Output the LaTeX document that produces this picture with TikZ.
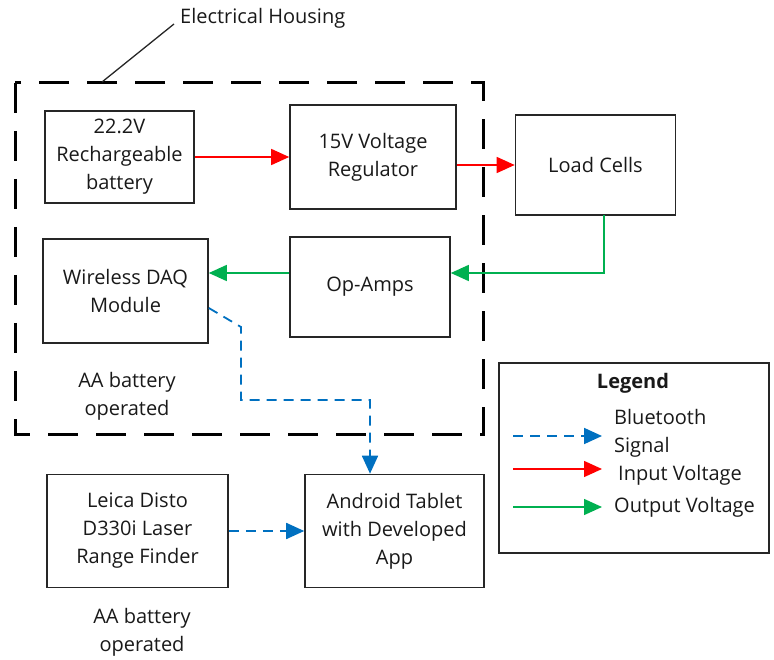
\documentclass[tikz,border=0pt]{standalone}
\usepackage{fontspec}
\setmainfont{Open Sans}
\usetikzlibrary{arrows.meta}
\definecolor{bt}{RGB}{0,112,192}
\definecolor{gv}{RGB}{0,176,80}
\definecolor{rv}{RGB}{255,0,0}
\begin{document}
\begin{tikzpicture}[x=1pt,y=-1pt,
  font=\fontsize{20}{28}\selectfont,
  blk/.style={draw=black!85,line width=1.6pt,align=center,inner sep=0pt,text=black!90},
  lbl/.style={align=center,inner sep=0pt,text=black!90},
  tip/.style={-{Triangle[length=18pt,width=16pt]}},
  inv/.style={tip,draw=rv,line width=1.5pt},
  outv/.style={tip,draw=gv,line width=1.5pt},
  blue/.style={draw=bt,line width=1.8pt,-{Triangle[length=18pt,width=16pt]},dash pattern=on 10pt off 7pt}]
\useasboundingbox (0,0) rectangle (774,660);
% housing
\draw[line width=3pt,dash pattern=on 30pt off 18pt] (15,83) rectangle (483,434);
\coordinate (hc) at (102,82);
\node[lbl,anchor=west] (hl) at (180,18) {Electrical Housing};
\draw[line width=1.3pt,black!85] (hc) -- (174,24);
% boxes
\node[blk,minimum width=149pt,minimum height=92pt] (bat) at (119.5,157) {22.2V\\Rechargeable\\battery};
\node[blk,minimum width=166pt,minimum height=104pt] (reg) at (373,157) {15V Voltage\\Regulator};
\node[blk,minimum width=160pt,minimum height=100pt] (load) at (595.5,165) {Load Cells};
\node[blk,minimum width=160pt,minimum height=100pt] (op) at (370,287) {Op-Amps};
\node[blk,minimum width=165pt,minimum height=104pt] (daq) at (125.5,291) {Wireless DAQ\\Module};
\node[lbl] (aa1) at (127,396.5) {AA battery\\operated};
\node[blk,minimum width=181pt,minimum height=113pt] (leica) at (137.5,531) {Leica Disto\\D330i Laser\\Range Finder};
\node[blk,minimum width=179pt,minimum height=113pt] (and) at (394.5,531) {Android Tablet\\with Developed\\App};
\node[lbl] (aa2) at (142,632.5) {AA battery\\operated};
% connectors
\draw[inv] (bat.east) -- (reg.west);
\draw[inv] (reg.east |- load.west) -- (load.west);
\draw[outv] (604,215) |- (op.east |- 0,273);
\draw[outv] (op.west |- 0,273) -- (daq.east |- 0,273);
\draw[blue] (daq.east |- 0,308) -- (241,327) -- (241,400) -- (370,400) -- (and.north -| 370,0);
\draw[blue] (leica.east) -- (and.west);
% legend
\node[blk,minimum width=270pt,minimum height=190pt] (leg) at (634,458) {};
\node[lbl,font=\fontsize{20}{28}\selectfont\bfseries] (legt) at (633,383) {Legend};
\coordinate (l1) at (513,436); \coordinate (l1e) at (602,436);
\coordinate (l2) at (513,469); \coordinate (l2e) at (602,469);
\coordinate (l3) at (513,507); \coordinate (l3e) at (602,507);
\draw[blue] (l1) -- (l1e);
\draw[inv] (l2) -- (l2e);
\draw[outv] (l3) -- (l3e);
\node[lbl,anchor=west,align=left] (t1) at (614,433) {Bluetooth\\Signal};
\node[lbl,anchor=west] (t2) at (618,475) {Input Voltage};
\node[lbl,anchor=west] (t3) at (614,507) {Output Voltage};
\end{tikzpicture}
\end{document}
